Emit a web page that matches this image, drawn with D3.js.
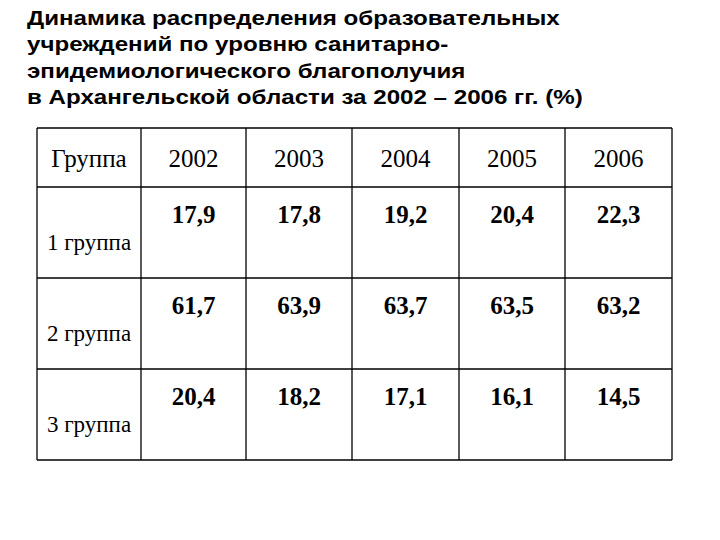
<!DOCTYPE html>
<html><head><meta charset="utf-8">
<script src="https://cdn.jsdelivr.net/npm/d3@7"></script>
<style>body{margin:0;background:#fff}</style>
</head><body>
<svg id="c" width="720" height="540"></svg>
<script>
const titleLines = ["Динамика распределения образовательных", "учреждений по уровню  санитарно-", "эпидемиологического благополучия", "в Архангельской области за 2002 – 2006 гг. (%)"];
const years = ["2002", "2003", "2004", "2005", "2006"];
const groups = ["1 группа", "2 группа", "3 группа"];
const g1 = ["17,9", "17,8", "19,2", "20,4", "22,3"];
const g2 = ["61,7", "63,9", "63,7", "63,5", "63,2"];
const g3 = ["20,4", "18,2", "17,1", "16,1", "14,5"];
const values = [g1, g2, g3];

const svg = d3.select("#c");
svg.append("g").attr("transform", "translate(27,0) scale(1.15,1)")
  .selectAll("text").data(titleLines).enter().append("text")
  .attr("x", 0).attr("y", (d, i) => 25 + i * 26.5)
  .attr("font-family", "Liberation Sans, Arial").attr("font-weight", "bold")
  .attr("font-size", 21).text(d => d);

// column edges and row edges
const colX = [37, 141, 246, 352, 459, 565, 672];
const rowY = [128, 187, 278, 369, 460];

const t = svg.append("g");
t.selectAll(".v").data(colX).enter().append("line")
  .attr("x1", d => d).attr("x2", d => d).attr("y1", rowY[0]).attr("y2", rowY[4])
  .attr("stroke", "#000").attr("stroke-width", 1.3);
t.selectAll(".h").data(rowY).enter().append("line")
  .attr("y1", d => d).attr("y2", d => d).attr("x1", colX[0]).attr("x2", colX[6])
  .attr("stroke", "#000").attr("stroke-width", 1.3);

const serif = "Liberation Serif, Times New Roman";
const header = ["Группа"].concat(years);
t.selectAll(".hd").data(header).enter().append("text")
  .attr("x", (d, i) => (colX[i] + colX[i + 1]) / 2).attr("y", 167)
  .attr("text-anchor", "middle").attr("font-family", serif).attr("font-size", 25)
  .text(d => d);

groups.forEach((gName, r) => {
  t.append("text").attr("x", (colX[0] + colX[1]) / 2).attr("y", rowY[r + 1] + 63)
    .attr("text-anchor", "middle").attr("font-family", serif).attr("font-size", 23)
    .text(gName);
  t.selectAll(".val" + r).data(values[r]).enter().append("text")
    .attr("x", (d, i) => (colX[i + 1] + colX[i + 2]) / 2).attr("y", rowY[r + 1] + 36)
    .attr("text-anchor", "middle").attr("font-family", serif).attr("font-weight", "bold")
    .attr("font-size", 25).text(d => d);
});
</script>
</body></html>
